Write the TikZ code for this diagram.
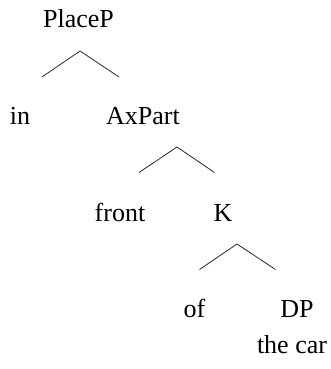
\documentclass[tikz,border=0pt]{standalone}
\usepackage{fontspec}
\setmainfont{Liberation Serif}
\usetikzlibrary{positioning}

\begin{document}
\begin{tikzpicture}[x=1pt,y=-1pt]
\fontsize{26}{30}\selectfont

% used shapes
\tikzstyle{word} = [anchor=base, inner sep=0pt, outer sep=0pt]
\tikzstyle{branch} = [line width=0.8pt, draw=black!85]

\useasboundingbox (0,0) rectangle (331,369);

\node [word] (placep) at (78.5,27.7) {PlaceP};
\node [word] (in) at (20,124) {in};
\node [word] (axpart) at (143,124) {AxPart};
\node [word] (front) at (120,221) {front};
\node [word] (k) at (223,221) {K};
\node [word] (of) at (194.5,317) {of};
\node [word] (dp) at (297,317) {DP};
\node [word] (thecar) at (292,353) {the car};

\coordinate (top1) at (80,51);
\coordinate (left1) at (42,77);
\coordinate (right1) at (119,77);

\coordinate (top2) at (177,147);
\coordinate (left2) at (139,172.5);
\coordinate (right2) at (214.5,172.5);

\coordinate (top3) at (237,244);
\coordinate (left3) at (199.5,269.5);
\coordinate (right3) at (275.5,269.5);

\draw [branch] (left1) -- (top1) -- (right1);
\draw [branch] (left2) -- (top2) -- (right2);
\draw [branch] (left3) -- (top3) -- (right3);

\end{tikzpicture}
\end{document}
